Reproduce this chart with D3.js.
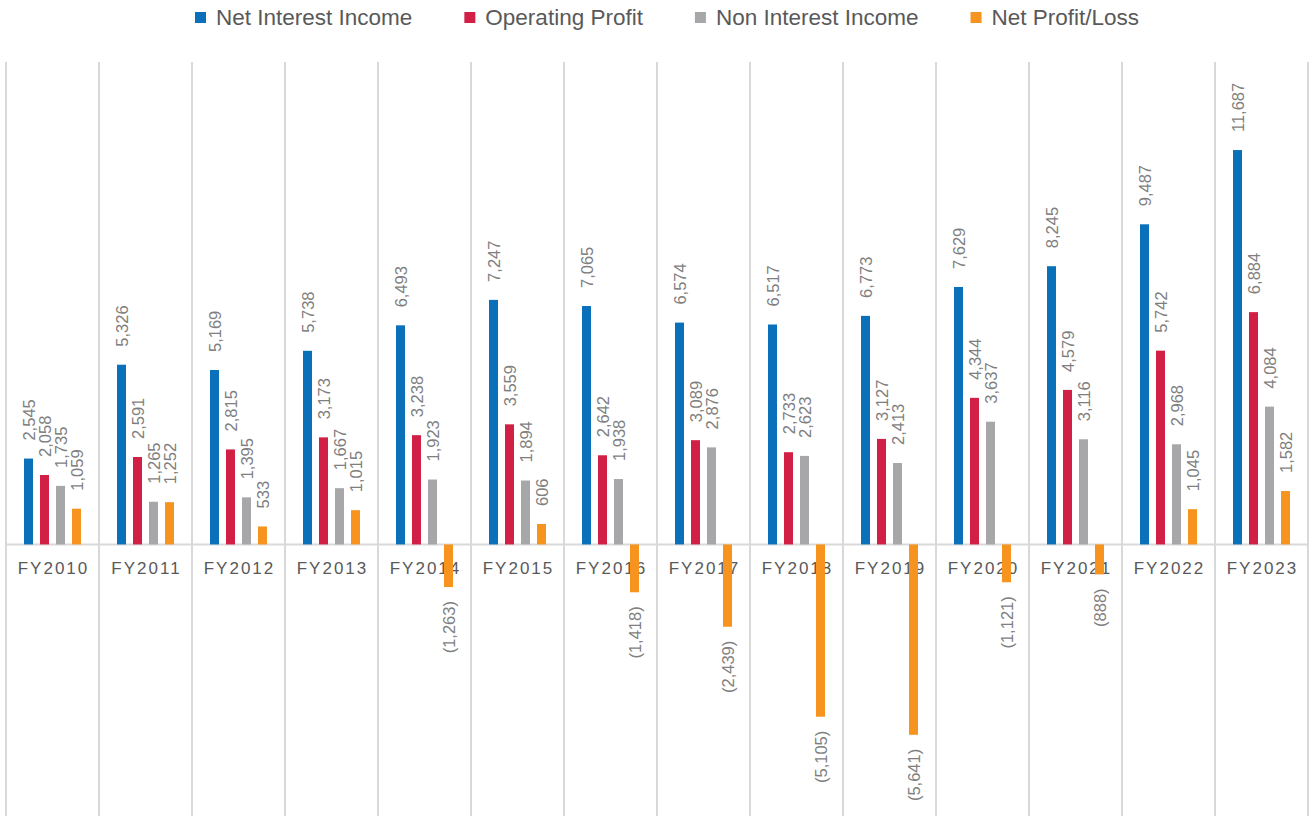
<!DOCTYPE html>
<html>
<head>
<meta charset="utf-8">
<script src="https://cdn.jsdelivr.net/npm/d3@7/dist/d3.min.js"></script>
<style>
  html, body { margin: 0; padding: 0; background: #ffffff; }
  svg { display: block; }
</style>
</head>
<body>
<svg id="chart" width="1312" height="816"></svg>
<script>
const categories = ["FY2010","FY2011","FY2012","FY2013","FY2014","FY2015","FY2016","FY2017","FY2018","FY2019","FY2020","FY2021","FY2022","FY2023"];
const seriesNames = ["Net Interest Income","Operating Profit","Non Interest Income","Net Profit/Loss"];
const netInterestIncome = [2545,5326,5169,5738,6493,7247,7065,6574,6517,6773,7629,8245,9487,11687];
const operatingProfit   = [2058,2591,2815,3173,3238,3559,2642,3089,2733,3127,4344,4579,5742,6884];
const nonInterestIncome = [1735,1265,1395,1667,1923,1894,1938,2876,2623,2413,3637,3116,2968,4084];
const netProfitLoss     = [1059,1252,533,1015,-1263,606,-1418,-2439,-5105,-5641,-1121,-888,1045,1582];
const seriesValues = [netInterestIncome, operatingProfit, nonInterestIncome, netProfitLoss];
const colors = ["#0A70BA","#D21F45","#A7A7AA","#F7941F"];

const svg = d3.select("#chart");
const plotLeft = 6, plotRight = 1308, plotTop = 62, plotBottom = 816;

const x0 = d3.scaleBand().domain(categories).range([plotLeft, plotRight]).padding(0);
const bw = x0.bandwidth();
const x1 = d3.scaleBand().domain(seriesNames)
  .range([bw/2 - 28.5, bw/2 + 28.5]).paddingInner(7/16).paddingOuter(0);
const y = d3.scaleLinear().domain([-8000, 14000]).range([814.4, 72]);

// vertical category separators
const seps = d3.range(categories.length + 1).map(i => plotLeft + i * bw);
svg.append("g").selectAll("line").data(seps).join("line")
  .attr("x1", d => d).attr("x2", d => d)
  .attr("y1", plotTop).attr("y2", plotBottom)
  .attr("stroke", "#D9D9D9").attr("stroke-width", 2);

// zero line
svg.append("line")
  .attr("x1", plotLeft).attr("x2", plotRight)
  .attr("y1", y(0)).attr("y2", y(0))
  .attr("stroke", "#D9D9D9").attr("stroke-width", 2);

// category labels
svg.append("g").selectAll("text").data(categories).join("text")
  .attr("x", d => x0(d) + bw/2 + 1)
  .attr("y", y(0) + 30)
  .attr("text-anchor", "middle")
  .attr("font-family", "Liberation Sans, Arial, sans-serif")
  .attr("font-size", 17)
  .attr("letter-spacing", 2)
  .attr("fill", "#595959")
  .text(d => d);

// bars
const fmt = d3.format(",");
const flat = [];
seriesNames.forEach((s, si) => {
  categories.forEach((c, ci) => flat.push({s, si, c, v: seriesValues[si][ci]}));
});

svg.append("g").selectAll("rect").data(flat).join("rect")
  .attr("x", d => x0(d.c) + x1(d.s))
  .attr("width", x1.bandwidth())
  .attr("y", d => y(Math.max(0, d.v)))
  .attr("height", d => Math.abs(y(d.v) - y(0)))
  .attr("fill", d => colors[d.si]);

// data labels (rotated)
svg.append("g").selectAll("text").data(flat).join("text")
  .attr("transform", d => {
    const cx = x0(d.c) + x1(d.s) + x1.bandwidth()/2;
    const cy = d.v >= 0 ? y(d.v) - 18 : y(d.v) + 14;
    return `translate(${cx},${cy}) rotate(-90)`;
  })
  .attr("text-anchor", d => d.v >= 0 ? "start" : "end")
  .attr("dominant-baseline", "central")
  .attr("font-family", "Liberation Sans, Arial, sans-serif")
  .attr("font-size", 16.5)
  .attr("fill", "#7F7F7F")
  .text(d => d.v < 0 ? `(${fmt(-d.v)})` : fmt(d.v));

// legend
const legend = svg.append("g");
let lx = 195;
seriesNames.forEach((s, i) => {
  legend.append("rect").attr("x", lx).attr("y", 12).attr("width", 11).attr("height", 11).attr("fill", colors[i]);
  const t = legend.append("text").attr("x", lx + 21).attr("y", 25)
    .attr("font-family", "Liberation Sans, Arial, sans-serif")
    .attr("font-size", 22.5).attr("fill", "#595959").text(s);
  lx += 21 + t.node().getComputedTextLength() + 52;
});
</script>
</body>
</html>
